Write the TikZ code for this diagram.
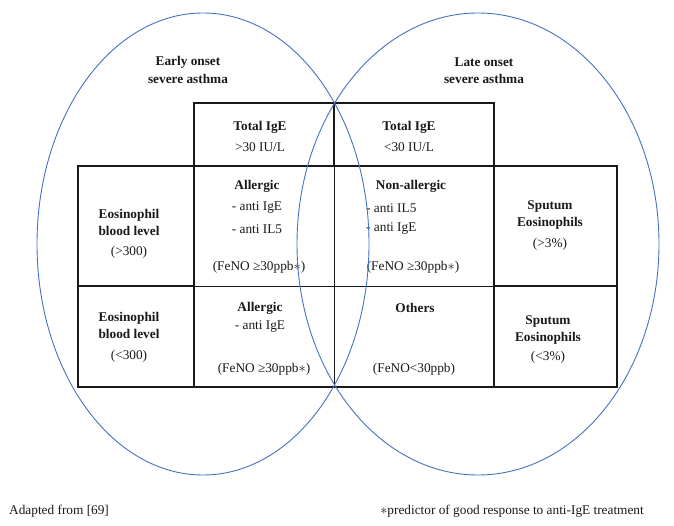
\documentclass[tikz,border=0pt]{standalone}
\usepackage{fontspec}
\setmainfont{Liberation Serif}
\usetikzlibrary{shapes.geometric}
\definecolor{ellblue}{RGB}{68,114,196}
\definecolor{ink}{RGB}{25,25,25}
\tikzset{
  thickbox/.style={draw=ink, line width=2pt, rectangle, inner sep=0pt},
  thinline/.style={draw=ink, line width=0.9pt},
  ring/.style={draw=ellblue, line width=0.9pt, ellipse, inner sep=0pt},
  txt/.style={inner sep=0pt, font=\fontsize{13.3}{15}\selectfont, text=ink},
  btxt/.style={txt, font=\fontsize{13.3}{15}\selectfont\bfseries},
}
\begin{document}
\begin{tikzpicture}[x=1pt,y=-1pt]
\useasboundingbox (0,0) rectangle (674,526);
% header boxes
\node[thickbox, minimum width=140pt, minimum height=63pt] (hl) at (264,134.5) {};
\node[thickbox, minimum width=160pt, minimum height=63pt] (hr) at (414,134.5) {};
% side columns
\node[thickbox, minimum width=116pt, minimum height=120pt] (l1) at (136,226) {};
\node[thickbox, minimum width=116pt, minimum height=101pt] (l2) at (136,336.5) {};
\node[thickbox, minimum width=123pt, minimum height=120pt] (r1) at (555.5,226) {};
\node[thickbox, minimum width=123pt, minimum height=101pt] (r2) at (555.5,336.5) {};
% centre block
\node[thickbox, minimum width=300pt, minimum height=221pt] (c) at (344,276.5) {};
\coordinate (cvt) at (334,166);
\coordinate (cvb) at (334,387);
\coordinate (chl) at (194,286);
\coordinate (chr) at (494,286);
\draw[thinline] (cvt) -- (cvb);
\draw[thinline] (chl) -- (chr);

% ellipse labels
\node[btxt] (e1) at (188,62) {Early onset};
\node[btxt] (e2) at (188,79) {severe asthma};
\node[btxt] (la1) at (484,62) {Late onset};
\node[btxt] (la2) at (484,79) {severe asthma};

% header text
\node[btxt] (hl1) at (260,127) {Total IgE};
\node[txt] (hl2) at (260,147) {>30 IU/L};
\node[btxt] (hr1) at (409,127) {Total IgE};
\node[txt] (hr2) at (409,147) {<30 IU/L};

% left column
\node[btxt] (a1) at (129,215) {Eosinophil};
\node[btxt] (a2) at (129,231) {blood level};
\node[txt] (a3) at (129,252) {(>300)};
\node[btxt] (b1) at (129,318) {Eosinophil};
\node[btxt] (b2) at (129,334) {blood level};
\node[txt] (b3) at (129,356) {(<300)};

% right column
\node[btxt] (s1) at (550,207) {Sputum};
\node[btxt] (s2) at (550,223) {Eosinophils};
\node[txt] (s3) at (550,244) {(>3\%)};
\node[btxt] (u1) at (548,322) {Sputum};
\node[btxt] (u2) at (548,338) {Eosinophils};
\node[txt] (u3) at (548,357) {(<3\%)};

% allergic row 1
\node[btxt] (g1) at (257,186) {Allergic};
\node[txt] (g2) at (257,208) {- anti IgE};
\node[txt] (g3) at (257,229) {- anti IL5};
\node[txt] (g4) at (259,267) {(FeNO ≥30ppb$\ast$)};
% non-allergic
\node[btxt] (n1) at (411,186) {Non-allergic};
\node[txt, anchor=west] (n2) at (366,208) {- anti IL5};
\node[txt, anchor=west] (n3) at (366,229) {- anti IgE};
\node[txt] (n4) at (413,267) {(FeNO ≥30ppb$\ast$)};
% allergic row 2
\node[btxt] (k1) at (260,308) {Allergic};
\node[txt] (k2) at (260,327) {- anti IgE};
\node[txt] (k3) at (264,369) {(FeNO ≥30ppb$\ast$)};
% others
\node[btxt] (o1) at (415,308) {Others};
\node[txt] (o2) at (414,369) {(FeNO<30ppb)};

% ellipses
\node[ring, minimum width=332pt, minimum height=462pt] (early) at (203,244) {};
\node[ring, minimum width=362pt, minimum height=462pt] (late) at (478,244) {};

% footer
\node[txt, anchor=west] (f1) at (9,511) {Adapted from [69]};
\node[txt, anchor=east] (f2) at (644,511) {$\ast$predictor of good response to anti-IgE treatment};
\end{tikzpicture}
\end{document}
